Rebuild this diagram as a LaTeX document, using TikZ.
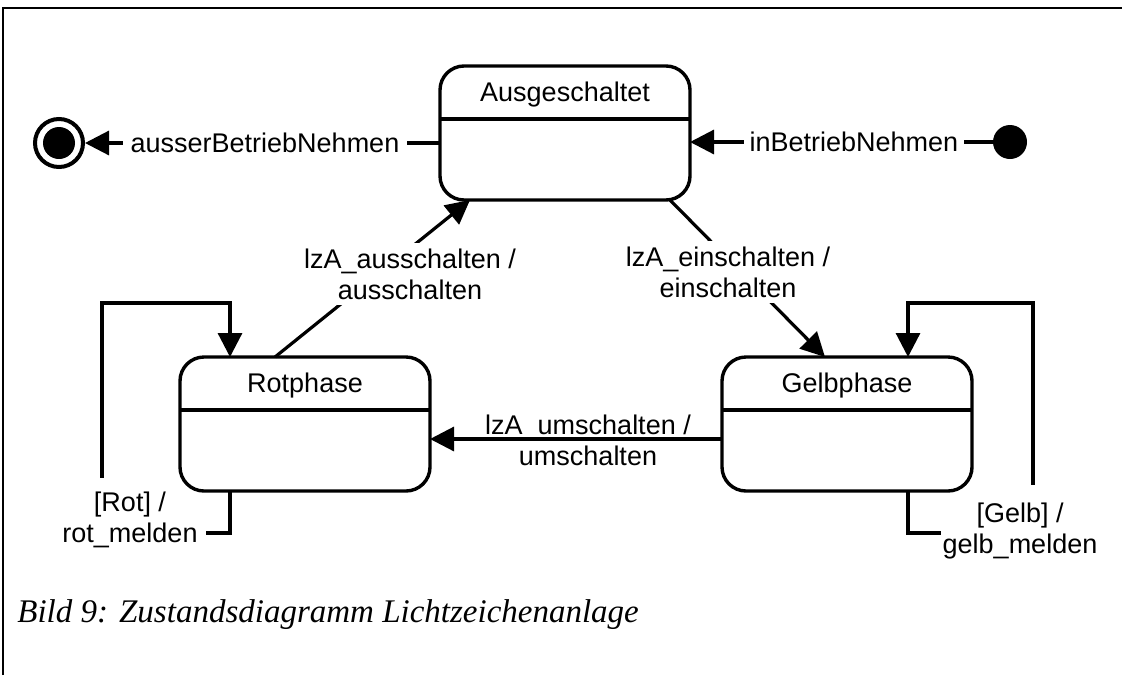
\documentclass[tikz,border=0pt]{standalone}
\usepackage{fontspec}
\setmainfont{Liberation Sans}
\newfontfamily\captionfont{Liberation Serif}
\usetikzlibrary{arrows.meta,calc}
\pgfdeclarelayer{wires}
\pgfsetlayers{wires,main}
\begin{document}
\begin{tikzpicture}[x=0.5pt,y=-0.5pt,
  every node/.style={font=\fontsize{13.5}{15.5}\selectfont},
  statebox/.style={draw, line width=1.7pt, rounded corners=12pt,
    minimum width=125pt, minimum height=67pt, outer sep=0pt, inner sep=0pt},
  divider/.style={line width=1.7pt},
  conn/.style={line width=1.6pt},
  arr/.style={conn, -{Triangle[length=12pt,width=12pt]}},
  lbl/.style={fill=white, align=center, inner sep=2pt},
  plainlbl/.style={align=center, inner sep=0pt},
  frame/.style={line width=1pt}]
\useasboundingbox (0,0) rectangle (1122,675);

% page frame (top and left edge only)
\draw[frame] (3,675) -- (3,8) -- (1122,8);

% states
\node[statebox] (aus)  at (565,133) {};
\node[statebox] (rot)  at (305,424) {};
\node[statebox] (gelb) at (847,424) {};
\foreach \s/\t in {aus/Ausgeschaltet, rot/Rotphase, gelb/Gelbphase}{
  \node (\s name) at ([yshift=-14.5pt]\s.north) {\t};
  \draw[divider] ([yshift=-26.5pt]\s.north west) -- ([yshift=-26.5pt]\s.north east);
}

% pseudo states
\node[circle, draw, line width=2pt, minimum size=24pt, inner sep=0pt, outer sep=1pt] (fin) at (59,143) {};
\node[circle, fill, minimum size=16pt, inner sep=0pt] (fincore) at (fin) {};
\node[circle, fill, minimum size=17pt, inner sep=0pt, outer sep=0pt] (init) at (1010,142) {};

% helper points for the self transitions
\coordinate (rotbl)  at (102,533);
\coordinate (rottl)  at (102,303);
\coordinate (gelbbr) at (1033,533);
\coordinate (gelbtr) at (1033,303);

\begin{pgfonlayer}{wires}
% transitions
\draw[arr] (aus.west |- fin) -- (fin)
  node[lbl, inner xsep=4pt, pos=0.493] (laus) {ausserBetriebNehmen};
\draw[arr] (init) -- (init -| aus.east)
  node[lbl, inner xsep=3pt, pos=0.459] (lin) {inBetriebNehmen};
\draw[arr] ([xshift=-15pt]rot.north) -- ([xshift=-47.5pt]aus.south);
\draw[arr] ([xshift=52.5pt]aus.south) -- ([xshift=-11pt]gelb.north);
\draw[arr] ([yshift=-7.5pt]gelb.west) -- ([yshift=-7.5pt]rot.east);
\draw[arr] ([xshift=-37.5pt]rot.south) |- (rotbl) -- (rottl) -| ([xshift=-37.5pt]rot.north);
\draw[arr] ([xshift=30.5pt]gelb.south) |- (gelbbr) -- (gelbtr) -| ([xshift=30.5pt]gelb.north);

% transition labels
\node[lbl, inner sep=3pt] (lausschalten) at (410,274) {lzA\_ausschalten /\\ausschalten};
\node[lbl, inner sep=3pt] (leinschalten) at (728,272) {lzA\_einschalten /\\einschalten};
\node[plainlbl] (lumschalten) at (588,440) {lzA\_umschalten /\\umschalten};
\node[lbl, inner xsep=4pt, inner ysep=7pt] (lrot)  at (130,520) {[Rot] /\\rot\_melden};
\node[lbl, inner xsep=1pt, inner ysep=9pt] (lgelb) at (1020,531) {[Gelb] /\\gelb\_melden};
\end{pgfonlayer}

% caption
\node[anchor=base west, inner sep=0pt,
  font=\captionfont\itshape\fontsize{16.5}{19}\selectfont] (caption) at (17,622)
  {Bild 9: Zustandsdiagramm Lichtzeichenanlage};
\end{tikzpicture}
\end{document}
